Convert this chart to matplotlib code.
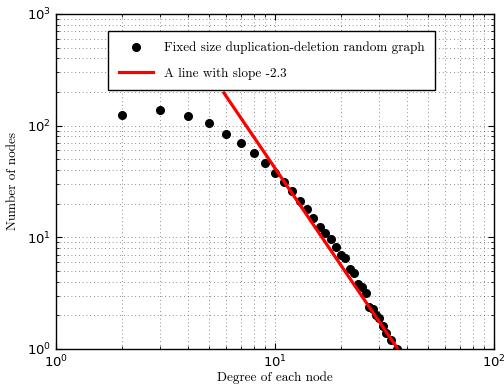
import numpy as np
import matplotlib.pyplot as plt

# datos
grado = np.array([2, 3, 4, 5, 6, 7, 8, 9, 10, 11, 12, 13, 14, 15, 16, 17, 18,
                  19, 20, 21, 22, 23, 24, 25, 26, 27, 28, 29, 30, 31, 32, 34, 36])
nodos = np.array([124, 139, 123, 106, 85, 70, 57, 46, 38, 31, 26, 21, 18, 15, 12.4,
                  10.9, 9.6, 8.2, 6.9, 6.5, 5.2, 4.8, 3.8, 3.6, 3.2, 2.4, 2.3, 2.0,
                  1.9, 1.6, 1.4, 1.2, 1.0])

# recta de referencia (extremos)
recta_x = np.array([5.85, 36.4])
recta_y = np.array([196, 1.0])

etiqueta_puntos = 'Fixed size duplication-deletion random graph'
etiqueta_recta = 'A line with slope -2.3'

fig = plt.figure(figsize=(5.04, 3.92), dpi=100)
ax = fig.add_axes([0.111, 0.1097, 0.869, 0.8546])

ax.loglog(grado, nodos, 'o', color='black', markersize=5.5, label=etiqueta_puntos)
ax.loglog(recta_x, recta_y, '-', color='red', linewidth=2.3, label=etiqueta_recta)

ax.set_xlim(1, 100)
ax.set_ylim(1, 1000)
ax.grid(True, which='both', linestyle=(0, (1, 3.5)), color='black', linewidth=0.6, alpha=0.6)
ax.tick_params(which='both', direction='in', top=True, right=True, labelsize=9.5)
ax.tick_params(which='major', length=4)
ax.tick_params(which='minor', length=2)
for s in ax.spines.values():
    s.set_linewidth(1.0)

ax.set_xlabel('Degree of each node', fontname='cmr10', fontsize=9.5, labelpad=1)
ax.set_ylabel('Number of nodes', fontname='cmr10', fontsize=9.5, labelpad=6)

leg = ax.legend(loc='upper left', bbox_to_anchor=(0.104, 0.968), fancybox=False,
                edgecolor='black', framealpha=1, prop={'family': 'cmr10', 'size': 9.5},
                handlelength=2.6, borderpad=0.8, labelspacing=1.0)
leg.get_frame().set_linewidth(1.0)

plt.savefig('out.png', dpi=100)
